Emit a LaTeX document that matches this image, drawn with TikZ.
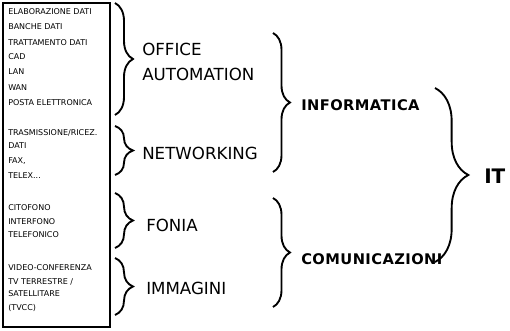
\documentclass[tikz,border=0pt]{standalone}
\usepackage{fontspec}
\setmainfont{DejaVu Sans}
\usetikzlibrary{decorations.pathreplacing}

\tikzset{
  voce/.style={anchor=west,inner sep=0pt,font=\fontsize{6}{6.5}\selectfont},
  area/.style={anchor=west,inner sep=0pt,align=left,font=\fontsize{12.5}{18.75}\selectfont},
  settore/.style={anchor=west,inner sep=0pt,font=\fontsize{11}{12}\selectfont\bfseries\addfontfeature{LetterSpace=3}},
  graffa/.style={line width=1.4pt,decorate,decoration={brace,amplitude=#1}},
}

\begin{document}
\begin{tikzpicture}[x=0.75pt,y=-0.75pt]
      \useasboundingbox (0,0) rectangle (510,331);
      \draw[line width=1.6pt] (3,3) rectangle (110,327);
      % voci elementari
      \node[voce] (elab) at (8,12) {ELABORAZIONE DATI};
      \node[voce] (banche) at (8,27) {BANCHE DATI};
      \node[voce] (tratt) at (8,43) {TRATTAMENTO DATI};
      \node[voce] (cad) at (8,57) {CAD};
      \node[voce] (lan) at (8,72) {LAN};
      \node[voce] (wan) at (8,88) {WAN};
      \node[voce] (posta) at (8,103) {POSTA ELETTRONICA};
      \node[voce] (trasm) at (8,133) {TRASMISSIONE/RICEZ.};
      \node[voce] (dati) at (8,146) {DATI};
      \node[voce] (fax) at (8,161) {FAX,};
      \node[voce] (telex) at (8,176) {TELEX...};
      \node[voce] (cito) at (8,208) {CITOFONO};
      \node[voce] (interf) at (8,222) {INTERFONO};
      \node[voce] (telef) at (8,235) {TELEFONICO};
      \node[voce] (video) at (8,268) {VIDEO-CONFERENZA};
      \node[voce] (tvterr) at (8,282) {TV TERRESTRE /};
      \node[voce] (satel) at (8,294) {SATELLITARE};
      \node[voce] (tvcc) at (8,308) {(TVCC)};
      % primo livello
      \draw[graffa=13.5pt] (115,3)--(115,115);
      \draw[graffa=13.5pt] (115,126)--(115,175);
      \draw[graffa=13.5pt] (115,193)--(115,248);
      \draw[graffa=13.5pt] (115,258)--(115,315);
      \node[area] (office) at (142,62) {OFFICE\\AUTOMATION};
      \node[area] (netw) at (142,153) {NETWORKING};
      \node[area] (fonia) at (146,225) {FONIA};
      \node[area] (immag) at (146,288) {IMMAGINI};
      % secondo livello
      \draw[graffa=12.75pt] (273,33)--(273,172);
      \draw[graffa=12.75pt] (273,198)--(273,307);
      \node[settore] (informatica) at (301,105) {INFORMATICA};
      \node[settore] (comunic) at (301,259) {COMUNICAZIONI};
      % terzo livello
      \draw[graffa=25pt] (435,88)--(435,262);
      \node[anchor=west,inner sep=0pt,font=\fontsize{15}{17}\selectfont\bfseries] (it) at (484,176) {IT};
\end{tikzpicture}
\end{document}
